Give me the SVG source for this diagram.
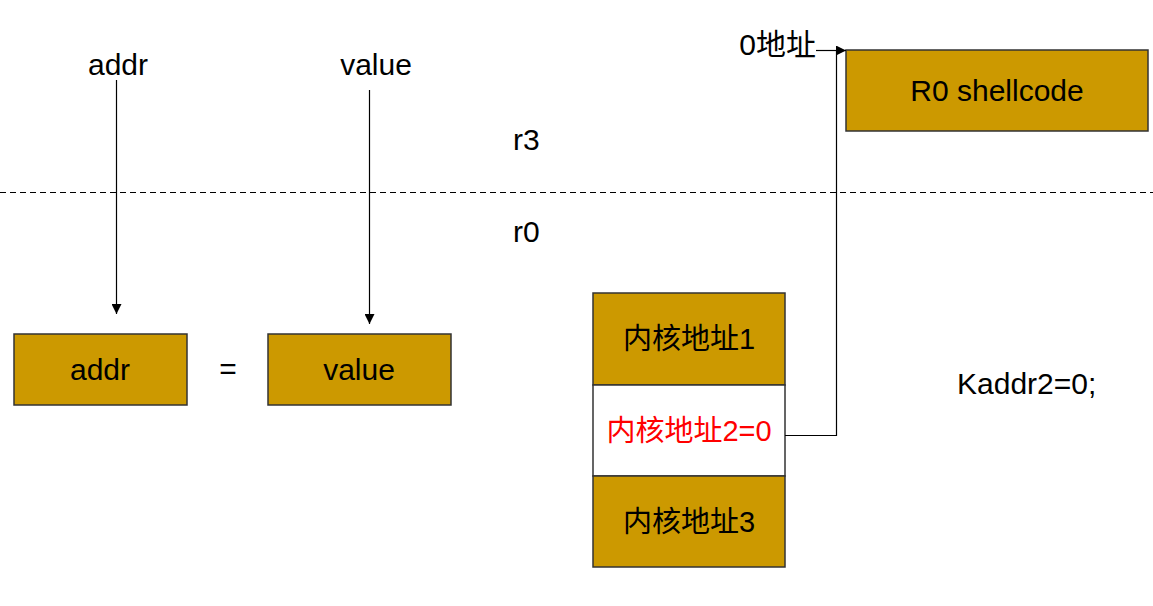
<svg xmlns="http://www.w3.org/2000/svg" width="1153" height="606" viewBox="0 0 1153 606">
<style>
text{font-family:"Liberation Sans","Noto Sans CJK SC",sans-serif;font-size:30px;fill:#000}
.c{text-anchor:middle}
.k{font-size:29px}
.box{fill:#CC9900;stroke:#333;stroke-width:1.5}
.white{fill:#fff;stroke:#333;stroke-width:1.5}
.ln{fill:none;stroke:#000;stroke-width:1.2}
.red{fill:#ff0000}
</style>
<defs>
<marker id="ah" viewBox="0 0 10 10" refX="10" refY="5" markerWidth="10" markerHeight="10" markerUnits="userSpaceOnUse" orient="auto">
<path d="M0,0 L10,5 L0,10 z" fill="#000"/>
</marker>
</defs>
<rect width="1153" height="606" fill="#fff"/>
<line x1="0" y1="192.5" x2="1153" y2="192.5" stroke="#000" stroke-width="1" stroke-dasharray="6,4"/>
<text x="513" y="150">r3</text>
<text x="513" y="242">r0</text>
<text x="118" y="75" class="c">addr</text>
<text x="376" y="75" class="c">value</text>
<text x="228" y="379" class="c">=</text>
<text x="957" y="394">Kaddr2=0;</text>
<text x="816" y="55" text-anchor="end">0地址</text>
<g id="addr"><rect class="box" x="14" y="334" width="173" height="71"/><text x="100" y="380" class="c">addr</text></g>
<g id="value"><rect class="box" x="268" y="334" width="183" height="71"/><text x="359" y="380" class="c">value</text></g>
<g id="shellcode"><rect class="box" x="846" y="50" width="302" height="81"/><text x="997" y="101" class="c">R0 shellcode</text></g>
<g id="k1"><rect class="box" x="593" y="293" width="192" height="92"/><text x="689" y="349" class="c k">内核地址1</text></g>
<g id="k2"><rect class="white" x="593" y="385" width="192" height="91"/><text x="689" y="441" class="c k red">内核地址2=0</text></g>
<g id="k3"><rect class="box" x="593" y="476" width="192" height="91"/><text x="689" y="532" class="c k">内核地址3</text></g>
<g id="connectors">
<line class="ln" x1="116.5" y1="80" x2="116.5" y2="314" marker-end="url(#ah)"/>
<line class="ln" x1="369.5" y1="90" x2="369.5" y2="324" marker-end="url(#ah)"/>
<line class="ln" x1="816" y1="50.5" x2="846" y2="50.5" marker-end="url(#ah)"/>
<polyline class="ln" points="785,435.5 836.5,435.5 836.5,51"/>
</g>
</svg>
